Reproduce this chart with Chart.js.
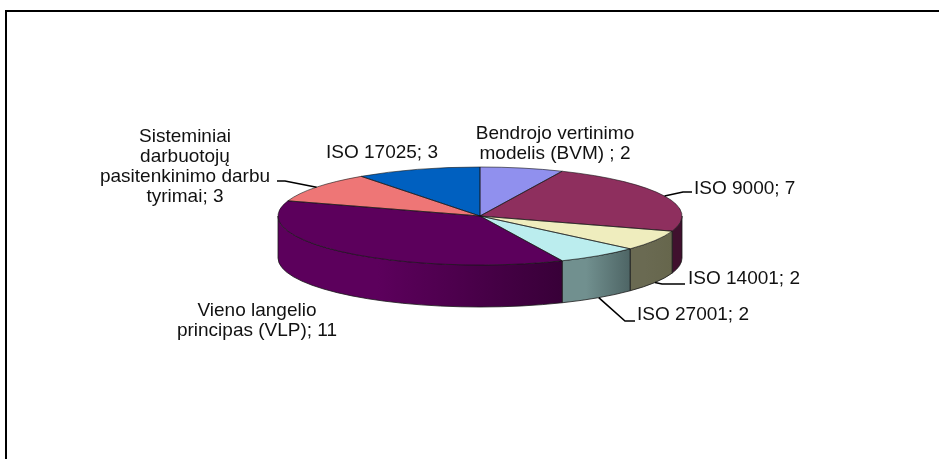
<!DOCTYPE html>
<html>
<head>
<meta charset="utf-8">
<style>
  html, body { margin: 0; background: #fff; overflow: hidden; }
  #frame { position: absolute; left: 5px; top: 10px; right: 0; bottom: 0;
           border: solid #000; border-width: 2.5px 0 0 2.5px; box-sizing: border-box; }
  #pie { position: absolute; left: 0; top: 0; }
</style>
<script src="https://cdn.jsdelivr.net/npm/chart.js@4/dist/chart.umd.min.js"></script>
</head>
<body>
<canvas id="pie" width="939" height="459"></canvas>
<div id="frame"></div>
<script>
var categories = ['Bendrojo vertinimo modelis (BVM) ', 'ISO 9000', 'ISO 14001', 'ISO 27001',
                  'Vieno langelio principas (VLP)', 'Sisteminiai darbuotojų pasitenkinimo darbu tyrimai', 'ISO 17025'];
var values = [2, 7, 2, 2, 11, 3, 3];
var topColors = ['#9090ee', '#8e2f5e', '#efedbe', '#bbedee', '#5c005c', '#ee7676', '#0060c0'];
var wallLeft = ['#6a6ab0', '#40102e', '#6a6a52', '#71908f', '#5c005c', '#a85050', '#004488'];
var wallRight = ['#6a6ab0', '#40102e', '#66664c', '#4e6565', '#380038', '#a85050', '#004488'];

// text wrapping and leader elbows for the labels, same order as categories
var labelLines = [
  ['Bendrojo vertinimo', 'modelis (BVM) ; 2'],
  ['ISO 9000; 7'],
  ['ISO 14001; 2'],
  ['ISO 27001; 2'],
  ['Vieno langelio', 'principas (VLP); 11'],
  ['Sisteminiai', 'darbuotojų', 'pasitenkinimo darbu', 'tyrimai; 3'],
  ['ISO 17025; 3']
];
var labelPos = [
  { x: 555, y: 134, align: 'center' },
  { x: 694, y: 189, align: 'left', leader: [[683, 192], [692, 192]] },
  { x: 688, y: 279, align: 'left', leader: [[662, 284], [685, 284]] },
  { x: 637, y: 315, align: 'left', leader: [[625, 321], [635, 321]] },
  { x: 257, y: 311, align: 'center' },
  { x: 185, y: 137, align: 'center', leader: [[285, 181], [277, 181]] },
  { x: 382, y: 153, align: 'center' }
];

var squash = 49 / 202;
var depth = 42;
var lift = 216;

function ellipsePath(ctx, cx, cy, r, a0, a1, ccw) {
  ctx.ellipse(cx, cy, r, r * squash, 0, a0, a1, ccw);
}

var pie3d = {
  id: 'pie3d',
  beforeDatasetDraw: function(chart) {
    var ctx = chart.ctx;
    var arcs = chart.getDatasetMeta(0).data;
    var cx = arcs[0].x, r = arcs[0].outerRadius;

    // side wall of the slices that face the viewer
    arcs.forEach(function(arc, i) {
      var a0 = Math.max(arc.startAngle, 0);
      var a1 = Math.min(arc.endAngle, Math.PI);
      if (a1 <= a0) return;
      var xa = cx + r * Math.cos(a1), xb = cx + r * Math.cos(a0);
      var grad = ctx.createLinearGradient(xa, 0, xb, 0);
      grad.addColorStop(0, wallLeft[i]);
      grad.addColorStop(0.35, wallLeft[i]);
      grad.addColorStop(1, wallRight[i]);
      ctx.beginPath();
      ellipsePath(ctx, cx, lift, r, a0, a1, false);
      ellipsePath(ctx, cx, lift + depth, r, a1, a0, true);
      ctx.closePath();
      ctx.fillStyle = grad;
      ctx.fill();
      ctx.strokeStyle = '#1a1a1a';
      ctx.lineWidth = 0.8;
      ctx.stroke();
    });

    // squash the circle the library draws into the top ellipse
    ctx.save();
    ctx.translate(cx, lift);
    ctx.scale(1, squash);
    ctx.translate(-cx, -arcs[0].y);
  },
  afterDatasetDraw: function(chart) {
    var ctx = chart.ctx;
    ctx.restore();
    var arcs = chart.getDatasetMeta(0).data;

    arcs.forEach(function(arc) {
      ctx.beginPath();
      ctx.moveTo(arc.x, lift);
      ellipsePath(ctx, arc.x, lift, arc.outerRadius, arc.startAngle, arc.endAngle, false);
      ctx.closePath();
      ctx.strokeStyle = 'rgba(20,20,20,0.75)';
      ctx.lineWidth = 0.8;
      ctx.stroke();
    });
  },
  afterDraw: function(chart) {
    var ctx = chart.ctx;
    var arcs = chart.getDatasetMeta(0).data;
    var lineGap = 20;

    labelPos.forEach(function(p, i) {
      if (p.leader) {
        var arc = arcs[i];
        var mid = (arc.startAngle + arc.endAngle) / 2;
        var sx = arc.x + arc.outerRadius * Math.cos(mid);
        var sy = lift + arc.outerRadius * squash * Math.sin(mid);
        if (Math.sin(mid) > 0) sy += depth;
        ctx.beginPath();
        ctx.moveTo(sx, sy);
        p.leader.forEach(function(pt) { ctx.lineTo(pt[0], pt[1]); });
        ctx.strokeStyle = '#000';
        ctx.lineWidth = 1.6;
        ctx.stroke();
      }
      ctx.fillStyle = '#111';
      ctx.font = '19px "Liberation Sans", Arial, sans-serif';
      ctx.textAlign = p.align;
      ctx.textBaseline = 'middle';
      labelLines[i].forEach(function(line, k) {
        ctx.fillText(line, p.x, p.y + k * lineGap);
      });
    });
  }
};

new Chart(document.getElementById('pie'), {
  type: 'pie',
  data: {
    labels: categories,
    datasets: [{
      data: values,
      backgroundColor: topColors,
      borderWidth: 0
    }]
  },
  options: {
    responsive: false,
    animation: false,
    radius: 202,
    layout: { padding: { left: 21 } },
    plugins: { legend: { display: false }, tooltip: { enabled: false } }
  },
  plugins: [pie3d]
});
</script>
</body>
</html>
